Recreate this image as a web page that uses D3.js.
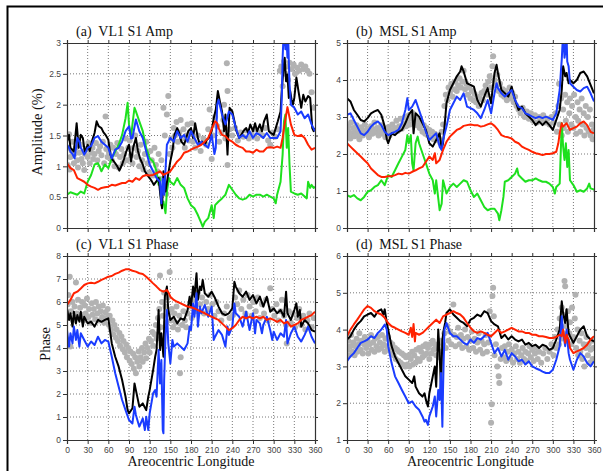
<!DOCTYPE html>
<html>
<head>
<meta charset="utf-8">
<script src="https://cdn.jsdelivr.net/npm/d3@7"></script>
<style>
  body { margin: 0; background: #fff; }
  svg { display: block; }
</style>
</head>
<body>
<div id="chart"></div>
<script>
// ---- data: [Ls, value] ----
const lsTicks = d3.range(0, 361, 30);

// (a) VL1 S1 Amp
const vl1AmpBlack = [[0,1.40],[3,1.51],[5,1.30],[10,1.24],[14,1.70],[17,1.30],[20,1.51],[23,1.46],[26,1.22],[30,1.35],[33,1.25],[36,1.40],[40,1.54],[43,1.73],[46,1.65],[50,1.62],[53,1.55],[56,1.51],[60,1.43],[63,1.19],[66,1.11],[70,1.05],[73,1.0],[76,0.93],[80,1.03],[83,1.13],[86,1.24],[90,1.35],[93,1.08],[96,1.30],[100,1.46],[103,1.25],[106,1.13],[110,1.03],[113,0.92],[116,0.87],[120,0.81],[123,0.76],[126,0.70],[130,0.76],[133,0.81],[136,0.48],[138,0.32],[140,0.92],[143,0.59],[146,0.81],[150,1.08],[153,1.24],[156,1.51],[160,1.62],[163,1.54],[166,1.40],[170,1.35],[173,1.46],[176,1.57],[180,1.62],[183,1.46],[186,1.70],[190,1.46],[193,1.35],[196,1.40],[200,1.35],[203,1.43],[206,1.46],[210,1.57],[213,1.78],[216,1.92],[219,2.22],[222,2.05],[225,1.89],[228,1.57],[230,1.84],[233,1.19],[236,1.95],[240,1.89],[243,1.73],[246,1.57],[250,1.46],[253,1.51],[256,1.57],[260,1.62],[263,1.54],[266,1.68],[270,1.57],[273,1.70],[276,1.57],[280,1.68],[283,1.57],[286,1.73],[290,1.84],[293,1.57],[296,1.54],[300,1.51],[303,1.62],[306,1.73],[310,1.89],[312,2.27],[314,2.54],[316,2.76],[318,2.38],[320,2.49],[322,2.11],[324,2.22],[326,2.08],[328,2.0],[330,2.11],[333,2.44],[336,2.22],[340,1.95],[343,2.16],[346,2.05],[350,2.14],[353,2.11],[356,1.62],[358,1.57],[360,1.62]];
const vl1AmpBlue = [[0,1.35],[3,1.30],[5,1.24],[8,1.20],[11,1.13],[15,1.46],[18,1.40],[20,1.30],[23,1.24],[25,1.19],[28,1.25],[30,1.30],[35,1.33],[40,1.46],[45,1.49],[50,1.40],[55,1.35],[60,1.30],[65,1.13],[70,1.27],[75,1.30],[80,1.40],[85,1.57],[90,1.65],[93,1.45],[95,1.46],[100,1.76],[105,1.57],[110,1.46],[115,1.24],[120,1.03],[125,0.92],[130,0.81],[135,0.75],[137,0.40],[139,0.80],[141,0.54],[145,1.35],[150,1.46],[155,1.40],[160,1.57],[165,1.46],[170,1.51],[175,1.40],[180,1.57],[185,1.46],[190,1.35],[195,1.40],[200,1.35],[205,1.30],[210,1.51],[214,1.20],[216,1.30],[218,2.0],[220,2.08],[225,1.84],[230,1.68],[235,1.89],[240,1.84],[245,1.62],[250,1.46],[255,1.51],[260,1.46],[265,1.57],[270,1.46],[275,1.54],[280,1.51],[285,1.46],[290,1.54],[295,1.46],[300,1.46],[305,1.46],[310,1.57],[312,2.2],[313,2.76],[315,3.3],[317,2.9],[318,3.2],[320,2.76],[321,3.1],[323,2.33],[325,2.0],[330,1.95],[335,1.84],[340,1.89],[345,1.78],[350,1.84],[355,1.68],[360,1.57]];
const vl1AmpRed = [[0,1.05],[5,0.97],[10,0.94],[15,0.81],[20,0.78],[25,0.75],[30,0.70],[35,0.67],[40,0.65],[45,0.62],[50,0.65],[55,0.66],[60,0.67],[65,0.70],[70,0.69],[75,0.71],[80,0.73],[85,0.73],[90,0.77],[95,0.75],[100,0.81],[105,0.78],[110,0.84],[115,0.86],[120,0.85],[125,0.86],[130,0.89],[135,0.92],[140,0.86],[145,0.89],[150,0.92],[155,1.0],[160,1.08],[165,1.13],[170,1.22],[175,1.24],[180,1.27],[185,1.30],[190,1.32],[195,1.35],[200,1.40],[205,1.46],[210,1.60],[215,1.73],[218,1.70],[220,1.62],[225,1.51],[230,1.49],[235,1.43],[240,1.40],[245,1.35],[250,1.32],[255,1.30],[260,1.24],[265,1.24],[270,1.22],[275,1.27],[280,1.24],[285,1.24],[290,1.30],[295,1.31],[300,1.30],[305,1.32],[310,1.30],[313,1.46],[315,1.62],[320,1.96],[325,1.68],[330,1.51],[335,1.49],[340,1.51],[345,1.46],[350,1.35],[355,1.27],[360,1.30]];
const vl1AmpGreen = [[0,0.54],[5,0.58],[10,0.56],[15,0.54],[20,0.59],[25,0.56],[30,0.75],[35,0.86],[40,1.03],[45,1.05],[50,0.92],[55,1.03],[60,0.97],[65,1.13],[70,1.24],[75,1.35],[80,1.51],[85,1.78],[88,2.03],[90,1.68],[93,1.46],[95,1.68],[98,1.95],[100,1.89],[105,1.73],[110,1.57],[115,1.30],[120,1.13],[125,1.08],[130,0.92],[133,0.70],[135,0.81],[137,0.37],[140,0.43],[143,0.24],[145,0.59],[148,0.81],[150,0.75],[155,0.70],[160,0.81],[165,0.70],[170,0.65],[175,0.48],[180,0.37],[185,0.32],[190,0.21],[195,0.08],[197,0.02],[200,0.10],[205,0.16],[210,0.37],[213,0.16],[215,0.37],[220,0.43],[225,0.48],[230,0.54],[235,0.70],[240,0.62],[245,0.54],[250,0.48],[255,0.46],[260,0.48],[265,0.54],[270,0.51],[275,0.54],[280,0.54],[285,0.51],[290,0.54],[295,0.51],[300,0.48],[303,0.40],[305,0.54],[310,0.75],[313,1.19],[315,1.73],[317,1.84],[319,1.30],[321,1.62],[323,1.03],[325,0.59],[330,0.56],[335,0.54],[340,0.56],[345,0.51],[348,0.48],[350,0.75],[353,0.65],[355,0.70],[358,0.65],[360,0.67]];
const vl1AmpObs = [[1,1.02],[2,1.3],[3,1.52],[4,0.95],[5,1.15],[7,1.25],[8,1.4],[10,1.05],[11,1.2],[13,1.3],[15,1.1],[16,0.98],[18,1.22],[20,1.35],[21,1.12],[23,1.05],[25,0.94],[26,1.2],[28,1.28],[30,1.15],[31,1.38],[33,1.05],[35,1.22],[37,1.3],[38,1.12],[40,1.2],[42,1.38],[44,1.1],[46,1.25],[48,1.32],[50,1.18],[52,1.4],[54,1.05],[56,1.81],[57,1.28],[59,1.15],[61,1.22],[63,1.35],[65,1.1],[67,1.3],[69,1.0],[71,1.2],[73,1.38],[75,0.98],[77,1.15],[79,1.28],[81,1.05],[83,1.2],[85,1.45],[87,1.1],[89,1.3],[91,1.42],[93,1.18],[95,1.05],[97,1.3],[99,1.5],[101,1.15],[103,1.25],[105,1.0],[107,1.35],[109,1.1],[111,0.95],[113,1.2],[115,1.4],[117,1.05],[119,0.9],[121,1.25],[123,1.1],[125,0.85],[127,1.3],[129,1.02],[131,0.92],[133,1.2],[135,0.8],[137,1.1],[139,0.62],[140,1.95],[142,1.5],[144,0.55],[145,1.84],[147,2.14],[149,1.2],[151,1.45],[153,1.3],[155,1.62],[157,1.5],[159,1.72],[161,1.4],[163,1.55],[165,1.75],[167,1.45],[169,1.6],[171,1.3],[173,1.5],[175,1.68],[177,1.42],[179,1.55],[181,1.7],[183,1.4],[186,1.3],[190,1.5],[194,1.25],[198,1.45],[202,1.35],[205,1.6],[207,1.92],[210,1.12],[212,1.5],[215,1.8],[218,1.65],[221,1.4],[224,1.55],[227,1.75],[228,2.0],[230,1.45],[232,2.67],[233,2.22],[233,1.02],[236,1.6],[240,1.5],[244,1.62],[248,1.42],[252,1.55],[256,1.48],[260,1.58],[264,1.45],[268,1.52],[272,1.6],[276,1.45],[280,1.55],[284,1.5],[288,1.62],[292,1.42],[295,1.35],[298,1.55],[302,1.48],[306,1.6],[309,2.55],[311,2.62],[313,2.3],[315,2.7],[317,2.5],[319,2.62],[321,2.4],[323,2.68],[326,2.58],[329,2.65],[331,2.5],[334,2.6],[337,2.55],[340,2.65],[343,2.58],[346,2.62],[349,2.55],[352,2.5],[355,2.2],[358,1.95]];

// (b) MSL S1 Amp
const mslAmpBlack = [[0,3.51],[5,3.42],[10,3.19],[15,3.06],[20,2.92],[25,2.88],[30,2.97],[35,3.10],[40,3.15],[45,3.19],[50,3.06],[55,2.74],[58,2.40],[60,2.29],[63,2.45],[65,2.56],[70,2.51],[75,2.60],[80,2.65],[85,2.83],[90,3.06],[95,3.19],[97,2.56],[100,3.10],[105,3.01],[110,2.83],[115,2.65],[120,2.29],[125,2.20],[130,2.38],[135,2.56],[138,2.15],[140,2.29],[145,3.37],[150,3.73],[155,3.91],[160,4.10],[165,4.23],[167,4.37],[170,4.23],[175,3.91],[180,3.87],[185,3.82],[190,3.46],[195,3.28],[200,3.55],[205,3.78],[210,3.37],[212,3.73],[215,4.19],[218,4.41],[220,4.19],[225,3.73],[230,3.64],[235,3.55],[240,3.82],[245,3.46],[250,3.19],[255,3.28],[260,3.10],[265,3.01],[270,2.92],[275,2.78],[280,2.88],[285,2.78],[290,2.88],[295,2.78],[300,2.65],[305,2.92],[310,3.19],[313,3.73],[315,4.37],[318,4.10],[320,4.19],[323,3.91],[325,4.0],[330,3.91],[335,4.0],[340,4.19],[345,4.23],[350,4.10],[355,3.87],[360,3.64]];
const mslAmpBlue = [[0,3.06],[5,3.10],[10,2.92],[15,2.74],[20,2.56],[25,2.51],[30,2.60],[35,2.74],[40,2.83],[45,2.88],[50,2.78],[55,2.60],[60,2.51],[65,2.56],[70,2.60],[75,2.65],[80,2.83],[85,3.19],[88,3.51],[90,3.19],[95,3.28],[100,3.46],[105,3.19],[110,2.92],[115,2.60],[120,2.38],[125,2.47],[130,2.56],[135,2.20],[138,2.11],[140,2.38],[145,2.74],[150,3.19],[155,3.37],[160,3.55],[165,3.46],[170,3.64],[175,3.28],[180,3.24],[185,3.19],[190,3.10],[195,2.97],[200,3.19],[205,3.46],[210,3.10],[215,3.64],[218,3.91],[220,3.78],[225,3.64],[230,3.55],[235,3.64],[240,3.73],[245,3.46],[250,3.28],[255,3.24],[260,3.10],[265,3.06],[270,3.01],[275,2.97],[280,3.01],[285,2.97],[290,3.01],[295,2.97],[300,2.92],[305,3.10],[310,3.73],[312,4.3],[313,4.55],[315,5.3],[317,4.6],[318,4.73],[320,5.2],[321,4.5],[323,4.37],[325,3.91],[330,3.82],[335,3.73],[340,3.69],[345,3.78],[350,3.82],[355,3.64],[360,3.42]];
const mslAmpRed = [[0,2.29],[5,2.20],[10,2.11],[15,2.02],[20,1.93],[25,1.84],[30,1.75],[35,1.61],[40,1.52],[45,1.43],[50,1.38],[55,1.38],[60,1.40],[65,1.40],[70,1.43],[75,1.47],[80,1.45],[85,1.49],[90,1.47],[95,1.52],[100,1.56],[105,1.61],[110,1.65],[115,1.79],[120,1.93],[125,1.84],[128,2.02],[130,1.75],[135,1.84],[140,2.11],[145,2.33],[150,2.47],[155,2.56],[160,2.65],[165,2.69],[170,2.76],[175,2.78],[180,2.80],[185,2.78],[190,2.78],[195,2.74],[200,2.76],[205,2.80],[210,2.83],[215,2.76],[220,2.65],[225,2.51],[230,2.47],[235,2.45],[240,2.42],[245,2.33],[250,2.29],[255,2.20],[260,2.15],[265,2.11],[270,2.06],[275,2.02],[280,2.0],[285,1.97],[290,2.0],[295,2.0],[300,2.02],[305,2.06],[308,2.29],[310,2.56],[313,2.83],[315,2.74],[320,2.83],[325,2.65],[330,2.70],[335,2.74],[340,2.83],[345,2.88],[350,2.78],[355,2.60],[360,2.56]];
const mslAmpGreen = [[0,0.89],[5,0.84],[10,0.89],[15,0.80],[20,0.75],[25,0.84],[30,0.98],[35,1.02],[40,1.11],[45,1.16],[50,1.29],[55,1.16],[60,1.43],[65,1.38],[70,1.56],[75,1.75],[80,1.93],[85,2.11],[88,2.51],[90,2.29],[93,2.51],[95,1.75],[97,1.56],[100,2.29],[103,2.47],[105,2.29],[110,2.02],[115,1.75],[120,1.47],[125,1.29],[128,0.93],[130,1.29],[135,0.48],[138,0.66],[140,1.29],[145,0.93],[150,1.11],[155,1.20],[160,1.11],[165,1.20],[170,1.29],[175,1.25],[180,1.02],[185,0.84],[190,0.93],[195,0.75],[200,0.57],[205,0.48],[210,0.52],[215,0.52],[220,0.39],[222,0.21],[225,0.48],[228,0.84],[230,1.25],[235,1.29],[240,1.38],[245,1.47],[248,1.61],[250,1.43],[255,1.34],[260,1.25],[265,1.29],[270,1.29],[275,1.34],[280,1.29],[285,1.25],[290,1.25],[295,1.20],[300,1.11],[303,0.93],[305,1.11],[310,1.20],[313,2.83],[315,2.20],[317,1.84],[319,2.29],[321,1.65],[323,2.11],[325,1.29],[330,1.16],[335,0.98],[340,1.02],[345,0.98],[350,1.07],[353,1.20],[355,1.07],[360,1.04]];
const mslAmpObs = [[1,2.5],[2,2.75],[3,2.6],[5,2.42],[6,2.85],[8,2.55],[9,2.7],[11,2.48],[12,2.62],[14,2.78],[15,2.5],[17,2.65],[18,2.4],[20,2.58],[21,2.72],[23,2.5],[25,2.62],[26,2.8],[28,2.55],[30,2.68],[32,2.45],[33,2.6],[35,2.75],[37,2.55],[39,2.66],[40,2.85],[42,2.58],[44,2.7],[46,2.5],[48,2.62],[50,2.78],[52,2.55],[54,2.68],[56,2.45],[58,2.6],[60,2.72],[62,2.5],[64,2.65],[66,2.8],[68,2.58],[70,2.7],[72,2.9],[74,2.62],[76,2.75],[78,2.95],[80,2.68],[82,2.82],[84,3.0],[86,2.75],[88,2.9],[90,3.05],[92,2.8],[94,2.95],[96,3.1],[98,2.85],[100,3.0],[102,2.78],[104,2.92],[106,2.7],[108,2.85],[110,2.6],[112,2.78],[114,2.55],[116,2.7],[118,2.5],[120,2.65],[122,2.45],[124,2.6],[126,2.4],[128,2.55],[130,2.38],[132,2.5],[134,2.42],[136,2.3],[138,2.6],[140,2.8],[142,3.3],[144,3.6],[146,3.45],[148,3.8],[150,3.65],[152,3.9],[154,3.55],[156,3.75],[158,3.95],[160,3.7],[162,3.85],[164,4.05],[166,3.8],[168,3.95],[170,4.25],[172,3.75],[174,3.9],[176,3.6],[178,3.8],[180,3.5],[182,3.7],[184,3.45],[186,3.62],[188,3.4],[190,3.55],[192,3.3],[194,3.5],[196,3.65],[198,3.45],[200,3.7],[202,3.85],[204,3.6],[206,3.95],[208,4.1],[210,3.8],[212,4.37],[213,4.64],[215,4.0],[217,3.85],[219,4.15],[221,3.7],[223,3.9],[225,3.6],[227,3.75],[229,3.55],[231,3.7],[233,3.45],[235,3.6],[237,3.8],[239,3.5],[241,3.65],[243,3.4],[245,3.55],[247,3.3],[250,3.2],[253,3.1],[256,3.25],[259,3.0],[262,3.15],[265,2.95],[268,3.1],[271,2.9],[274,3.05],[277,2.85],[280,3.0],[283,2.9],[286,3.05],[289,2.85],[292,2.95],[295,2.8],[298,3.0],[301,2.85],[304,3.1],[306,2.6],[308,3.3],[309,3.9],[310,2.8],[312,3.5],[313,2.5],[315,3.2],[316,2.7],[318,3.6],[319,2.9],[321,3.4],[322,2.6],[324,3.1],[325,3.5],[327,2.8],[328,3.3],[330,2.7],[331,3.6],[333,3.0],[334,2.55],[336,3.4],[337,2.9],[339,3.2],[340,2.6],[342,3.5],[343,2.8],[345,3.1],[346,2.5],[348,3.3],[349,2.7],[351,3.0],[352,2.6],[354,3.2],[355,2.5],[357,2.8],[358,2.4],[359,2.65]];

// (c) VL1 S1 Phase
const vl1PhBlack = [[0,5.72],[3,5.22],[5,5.51],[8,4.93],[10,5.58],[13,5.07],[15,5.43],[18,5.14],[20,5.58],[23,4.93],[25,5.36],[30,5.07],[35,5.14],[40,4.93],[45,5.22],[50,5.14],[55,5.22],[60,5.29],[63,4.64],[65,4.20],[70,3.62],[75,3.19],[80,2.61],[85,1.88],[88,1.30],[90,1.16],[95,1.38],[98,2.46],[100,2.17],[105,1.45],[110,1.59],[115,1.30],[118,1.88],[120,2.17],[125,3.04],[128,3.62],[130,3.91],[133,5.65],[135,3.91],[137,4.64],[140,3.62],[142,6.23],[145,6.67],[147,5.65],[150,5.22],[155,5.36],[160,5.07],[165,5.29],[170,5.22],[175,5.65],[178,6.23],[180,5.80],[183,6.67],[185,6.23],[188,7.25],[190,6.09],[193,6.67],[195,6.52],[197,6.96],[200,6.38],[205,6.23],[210,6.45],[215,6.16],[220,5.80],[225,5.51],[230,5.43],[235,5.51],[240,5.72],[243,6.88],[245,6.67],[250,6.38],[255,6.23],[260,6.45],[265,6.09],[270,6.30],[275,5.94],[280,6.23],[285,5.80],[290,6.23],[295,5.58],[300,5.72],[305,5.51],[310,5.65],[315,5.36],[318,6.45],[320,5.51],[325,5.22],[330,5.65],[333,5.94],[335,5.36],[338,5.65],[340,4.93],[345,5.22],[350,5.07],[355,4.78],[360,4.71]];
const vl1PhBlue = [[0,4.78],[3,4.06],[5,4.64],[8,4.20],[10,4.93],[13,4.35],[15,4.78],[18,4.06],[20,4.64],[25,4.35],[30,4.06],[35,4.28],[40,4.13],[45,4.49],[50,4.20],[55,4.35],[60,4.28],[65,3.62],[70,2.90],[75,2.32],[80,1.74],[85,1.30],[90,0.87],[95,0.72],[98,1.45],[100,1.09],[105,0.58],[110,0.94],[113,0.43],[115,1.01],[118,0.43],[120,1.16],[125,2.03],[128,2.17],[130,1.88],[133,3.91],[135,2.46],[137,3.48],[139,0.43],[140,0.29],[141,2.6],[143,4.49],[145,5.65],[147,4.2],[150,3.33],[153,4.35],[155,4.06],[160,4.20],[165,4.06],[170,3.91],[175,4.20],[178,4.93],[180,4.78],[183,5.94],[185,5.36],[188,6.38],[190,4.93],[193,5.80],[195,5.51],[200,5.87],[205,5.36],[210,5.80],[213,4.35],[215,4.49],[220,4.78],[225,4.57],[230,4.06],[233,4.93],[235,4.57],[240,4.93],[243,5.94],[245,5.51],[250,5.36],[255,4.93],[260,5.58],[265,4.78],[270,5.51],[273,4.64],[275,5.22],[280,5.07],[283,4.64],[285,5.0],[290,5.36],[295,4.78],[298,4.35],[300,4.71],[305,4.35],[310,4.64],[315,4.49],[318,5.22],[320,4.20],[325,4.64],[330,4.93],[335,4.49],[340,4.28],[345,4.57],[350,4.93],[355,4.49],[360,4.20]];
const vl1PhRed = [[0,5.87],[5,6.09],[10,6.38],[15,6.45],[20,6.59],[25,6.74],[30,6.81],[35,6.84],[40,6.81],[45,6.88],[50,6.96],[55,7.03],[60,7.10],[65,7.13],[70,7.22],[75,7.28],[80,7.36],[85,7.42],[90,7.42],[95,7.36],[100,7.32],[105,7.25],[110,7.22],[115,7.10],[120,6.96],[125,6.81],[130,6.67],[135,6.52],[140,6.45],[145,6.52],[148,6.38],[150,6.23],[155,6.09],[160,6.01],[165,5.94],[170,5.87],[175,5.80],[180,5.77],[185,5.72],[190,5.65],[195,5.58],[200,5.51],[205,5.43],[210,5.36],[215,5.29],[220,5.22],[225,5.07],[230,4.93],[235,4.78],[240,4.86],[245,5.0],[250,5.22],[255,5.36],[260,5.29],[265,5.36],[270,5.29],[275,5.36],[280,5.29],[285,5.36],[290,5.22],[295,5.29],[300,5.22],[305,5.14],[310,5.22],[315,5.07],[320,5.14],[325,4.93],[330,5.0],[335,5.07],[340,5.22],[345,5.29],[350,5.36],[355,5.43],[360,5.58]];
const vl1PhObs = [[1,5.9],[2,6.3],[4,7.1],[5,4.06],[6,5.6],[8,6.0],[9,5.2],[11,5.8],[13,6.85],[14,5.5],[16,6.1],[17,5.3],[19,5.75],[21,5.45],[22,6.0],[24,5.2],[26,5.85],[27,5.5],[29,6.15],[31,5.35],[32,5.7],[34,5.1],[36,5.95],[37,5.45],[39,5.7],[41,5.25],[42,6.0],[44,5.5],[46,5.8],[47,5.2],[49,5.6],[51,5.35],[52,5.85],[54,5.1],[56,5.55],[57,5.3],[59,5.7],[61,5.0],[62,5.4],[64,4.8],[66,5.2],[67,4.6],[69,5.0],[71,4.45],[72,4.8],[74,4.3],[76,4.65],[77,4.1],[79,4.5],[81,3.95],[82,4.3],[84,3.8],[86,4.15],[87,3.6],[89,4.0],[91,3.45],[92,3.85],[94,3.3],[96,3.75],[97,3.1],[99,3.6],[100,2.9],[102,3.4],[104,3.85],[105,3.2],[107,3.6],[109,4.0],[110,3.4],[112,3.8],[114,4.2],[115,3.55],[117,4.0],[119,4.4],[120,3.8],[122,4.3],[124,4.7],[125,4.1],[127,4.6],[129,5.0],[130,4.4],[132,5.3],[134,5.7],[135,7.15],[136,4.9],[138,6.0],[139,5.4],[141,6.4],[143,5.8],[144,5.1],[146,6.2],[148,5.5],[149,7.3],[151,5.2],[152,5.7],[154,4.9],[156,5.5],[158,5.1],[159,5.8],[161,4.8],[163,5.4],[164,2.9],[165,3.6],[167,5.0],[169,5.6],[171,5.2],[173,4.9],[175,5.5],[178,5.8],[181,5.3],[184,6.1],[187,5.6],[190,6.4],[193,5.9],[196,6.2],[199,5.5],[202,6.0],[205,5.7],[208,6.3],[211,5.9],[214,5.4],[217,6.0],[220,5.6],[224,5.2],[228,5.5],[232,5.8],[236,5.3],[241,5.43],[244,6.2],[247,5.9],[250,6.5],[253,5.7],[256,6.1],[259,5.5],[262,6.3],[265,5.8],[268,5.4],[271,6.0],[274,5.6],[277,6.2],[280,5.3],[283,5.9],[286,5.5],[289,6.1],[292,5.2],[295,6.6],[298,5.7],[301,5.4],[304,5.9],[307,5.2],[310,5.6],[312,6.1],[315,5.4],[318,5.0],[319,4.2],[322,5.6],[325,5.1],[328,5.5],[331,4.9],[334,5.3],[337,5.7],[340,5.0],[343,5.4],[346,4.8],[349,5.2],[352,5.5],[355,4.9],[358,5.3]];

// (d) MSL S1 Phase
const mslPhBlack = [[0,3.73],[5,3.82],[10,4.0],[15,4.14],[20,4.23],[25,4.36],[30,4.41],[35,4.45],[40,4.35],[45,4.5],[50,4.55],[53,4.41],[55,4.55],[58,4.18],[60,4.0],[65,3.55],[70,3.27],[75,3.09],[80,2.91],[85,2.73],[90,2.64],[95,2.55],[98,2.73],[100,2.45],[105,2.27],[110,2.18],[113,2.27],[115,2.09],[118,1.91],[120,2.27],[125,2.73],[128,3.0],[130,2.45],[133,4.0],[135,3.36],[137,2.36],[139,3.73],[141,4.0],[143,4.18],[145,4.45],[150,4.55],[155,4.41],[160,4.32],[165,4.23],[170,4.18],[175,4.09],[180,4.27],[185,4.32],[190,4.41],[195,4.36],[200,4.5],[205,4.45],[210,4.23],[215,4.14],[220,4.09],[225,3.77],[230,3.86],[235,3.73],[240,3.82],[245,3.73],[250,3.68],[255,3.73],[260,3.59],[265,3.64],[270,3.55],[275,3.59],[280,3.5],[285,3.59],[290,3.55],[295,3.45],[300,3.5],[305,3.73],[310,4.0],[313,4.77],[315,4.45],[318,4.18],[320,4.55],[323,3.91],[325,3.82],[330,3.64],[335,3.82],[340,4.0],[345,4.09],[350,3.82],[355,3.73],[360,3.68]];
const mslPhBlue = [[0,3.14],[5,3.27],[10,3.36],[15,3.5],[20,3.64],[25,3.68],[30,3.73],[35,3.82],[40,3.77],[45,3.91],[50,4.0],[55,4.14],[58,4.0],[60,3.55],[65,3.09],[70,2.73],[75,2.55],[80,2.36],[85,2.18],[90,2.0],[95,2.05],[100,1.91],[105,1.82],[110,1.64],[113,1.5],[115,1.55],[118,1.41],[120,1.64],[125,1.91],[128,2.18],[130,1.64],[133,2.36],[135,2.09],[137,2.82],[139,1.36],[140,2.4],[142,4.0],[145,4.18],[150,3.91],[155,3.82],[160,3.82],[165,3.73],[170,3.64],[175,3.59],[180,3.73],[185,3.64],[190,3.77],[195,3.73],[200,3.82],[205,3.91],[210,3.64],[215,3.36],[220,3.5],[225,3.27],[230,3.45],[235,3.18],[240,3.36],[245,3.27],[250,3.14],[255,3.18],[260,3.05],[265,3.14],[270,3.0],[275,2.95],[280,2.91],[285,2.86],[290,2.82],[295,2.82],[300,2.91],[305,3.18],[310,3.55],[313,4.36],[315,3.91],[318,3.55],[320,4.0],[323,3.36],[325,3.18],[330,2.91],[335,3.18],[340,3.36],[345,3.27],[350,3.09],[355,3.0],[360,3.14]];
const mslPhRed = [[0,3.82],[5,4.0],[10,4.14],[15,4.27],[20,4.41],[25,4.55],[30,4.64],[35,4.59],[40,4.5],[45,4.45],[50,4.41],[55,4.32],[60,4.18],[65,4.09],[70,4.05],[75,4.0],[80,3.95],[85,3.91],[90,3.86],[93,4.05],[95,3.8],[97,4.15],[99,3.68],[100,3.91],[105,3.86],[110,3.91],[115,4.0],[120,4.09],[125,4.18],[130,4.27],[135,4.18],[140,4.36],[145,4.41],[150,4.45],[155,4.5],[160,4.45],[165,4.41],[170,4.32],[175,4.18],[180,4.05],[185,3.95],[190,3.91],[195,3.95],[200,3.91],[205,3.86],[210,3.82],[215,3.91],[220,4.0],[225,3.91],[230,3.95],[235,4.0],[240,4.05],[245,4.0],[250,3.95],[255,3.95],[260,3.91],[265,3.91],[270,3.86],[275,3.86],[280,3.82],[285,3.82],[290,3.8],[295,3.77],[300,3.77],[305,3.8],[310,3.86],[313,3.82],[315,4.0],[318,3.64],[320,3.86],[323,3.73],[325,3.5],[330,3.36],[335,3.41],[340,3.45],[345,3.5],[350,3.59],[355,3.73],[360,3.82]];
const mslPhObs = [[1,3.45],[2,3.7],[3,3.3],[5,3.55],[6,3.85],[8,3.4],[9,3.65],[11,3.3],[12,3.55],[14,3.75],[15,3.4],[17,3.6],[18,3.9],[20,3.45],[21,3.7],[23,3.35],[25,3.6],[26,3.8],[28,3.5],[30,3.7],[31,3.35],[33,3.6],[35,3.85],[36,3.45],[38,3.65],[40,3.4],[41,3.75],[43,3.55],[45,3.8],[46,3.45],[48,3.65],[50,3.5],[51,3.85],[53,3.6],[55,3.4],[56,3.75],[58,3.55],[60,3.8],[61,3.45],[63,3.65],[65,3.35],[66,3.6],[68,3.3],[70,3.5],[71,3.2],[73,3.45],[75,3.15],[76,3.4],[78,3.1],[80,3.35],[81,3.05],[83,3.3],[85,3.0],[86,3.25],[88,3.05],[90,3.3],[91,3.0],[93,3.2],[95,3.4],[96,3.05],[98,3.3],[100,3.1],[101,3.45],[103,3.2],[105,3.5],[106,3.15],[108,3.4],[110,3.25],[111,3.55],[113,3.3],[115,3.6],[116,3.35],[118,3.5],[120,3.2],[121,3.6],[123,3.35],[125,3.7],[126,3.45],[128,3.6],[130,3.3],[132,3.5],[134,3.25],[136,3.7],[138,3.4],[140,3.6],[142,3.9],[144,3.5],[146,4.1],[148,3.7],[150,3.95],[152,3.6],[155,4.68],[156,3.85],[158,3.55],[160,3.8],[162,4.05],[164,3.6],[166,3.85],[168,3.5],[170,3.75],[172,4.0],[174,3.55],[176,3.8],[178,3.45],[180,3.7],[182,3.95],[184,3.5],[186,3.75],[188,3.4],[190,3.65],[192,3.9],[194,3.45],[196,3.7],[198,3.35],[200,3.6],[202,3.85],[204,3.4],[206,3.65],[208,4.5],[210,1.47],[211,1.97],[212,4.91],[213,5.14],[214,4.36],[215,3.3],[217,3.6],[219,3.0],[221,2.73],[222,2.55],[224,3.2],[226,3.5],[228,3.25],[230,3.55],[232,3.15],[234,3.4],[236,3.6],[238,3.2],[240,3.45],[242,3.1],[244,3.35],[246,3.55],[248,3.2],[250,3.4],[252,3.1],[254,3.3],[256,3.5],[258,3.2],[260,3.4],[262,3.15],[264,3.35],[266,3.55],[268,3.25],[270,3.45],[272,3.15],[274,3.35],[276,3.5],[278,3.2],[280,3.4],[283,3.1],[286,3.35],[289,3.5],[292,3.2],[295,3.4],[298,3.6],[301,3.3],[303,3.8],[305,3.5],[307,4.0],[309,3.6],[310,4.3],[312,3.75],[313,4.6],[315,3.9],[316,4.4],[317,5.32],[318,5.18],[319,4.1],[321,3.7],[322,4.5],[324,3.9],[325,4.2],[327,3.6],[328,4.6],[330,3.8],[332,4.3],[333,4.95],[334,3.5],[336,4.0],[337,3.3],[339,3.7],[340,3.4],[342,3.9],[343,3.2],[345,3.6],[346,3.0],[348,3.5],[349,3.8],[351,3.3],[352,3.6],[354,3.1],[355,3.45],[357,3.7],[358,3.2],[359,3.5]];

// ---- layout ----
const W = 603, H = 471;
const colors = { obs: "#b2b2b2", black: "#000000", blue: "#1a3cff", red: "#ff2200", green: "#1ee01e" };

const panels = [
  { id: "a", title: "(a)  VL1 S1 Amp", left: 67, right: 315, top: 43, bottom: 228,
    domain: [0, 3], step: 0.5, xlabels: false,
    obs: vl1AmpObs, lines: [["green", vl1AmpGreen], ["black", vl1AmpBlack], ["blue", vl1AmpBlue], ["red", vl1AmpRed]] },
  { id: "b", title: "(b)  MSL S1 Amp", left: 347, right: 594, top: 43, bottom: 228,
    domain: [0, 5], step: 1, xlabels: false,
    obs: mslAmpObs, lines: [["green", mslAmpGreen], ["black", mslAmpBlack], ["blue", mslAmpBlue], ["red", mslAmpRed]] },
  { id: "c", title: "(c)  VL1 S1 Phase", left: 67, right: 315, top: 256, bottom: 440,
    domain: [0, 8], step: 1, xlabels: true,
    obs: vl1PhObs, lines: [["black", vl1PhBlack], ["blue", vl1PhBlue], ["red", vl1PhRed]] },
  { id: "d", title: "(d)  MSL S1 Phase", left: 347, right: 594, top: 256, bottom: 440,
    domain: [1, 6], step: 1, xlabels: true,
    obs: mslPhObs, lines: [["black", mslPhBlack], ["blue", mslPhBlue], ["red", mslPhRed]] }
];

const svg = d3.select("#chart").append("svg")
  .attr("width", W)
  .attr("height", H);

svg.append("rect").attr("width", W).attr("height", H).attr("fill", "#fff");

// outer frame (only top and left edges fall inside the picture)
svg.append("path")
  .attr("d", "M7.5," + H + "V6.5H" + W)
  .attr("fill", "none")
  .attr("stroke", "#000")
  .attr("stroke-width", 2);

function drawPanel(p) {
  const x = d3.scaleLinear().domain([0, 360]).range([p.left, p.right]);
  const y = d3.scaleLinear().domain(p.domain).range([p.bottom, p.top]);
  const yTicks = d3.range(p.domain[0], p.domain[1] + 1e-9, p.step);

  const g = svg.append("g").attr("class", "panel-" + p.id);

  // dotted grid
  const grid = g.append("g")
    .attr("stroke", "#555")
    .attr("stroke-width", 0.8)
    .attr("stroke-dasharray", "1,2");
  grid.selectAll(".gx").data(lsTicks.slice(1, -1)).join("line")
    .attr("x1", d => x(d)).attr("x2", d => x(d))
    .attr("y1", p.top).attr("y2", p.bottom);
  grid.selectAll(".gy").data(yTicks.slice(1, -1)).join("line")
    .attr("x1", p.left).attr("x2", p.right)
    .attr("y1", d => y(d)).attr("y2", d => y(d));

  svg.append("clipPath").attr("id", "clip-" + p.id)
    .append("rect")
    .attr("x", p.left).attr("y", p.top)
    .attr("width", p.right - p.left).attr("height", p.bottom - p.top);

  const plot = g.append("g").attr("clip-path", "url(#clip-" + p.id + ")");

  plot.append("g").selectAll("circle").data(p.obs).join("circle")
    .attr("cx", d => x(d[0]))
    .attr("cy", d => y(d[1]))
    .attr("r", 3)
    .attr("fill", colors.obs);

  const line = d3.line().x(d => x(d[0])).y(d => y(d[1]));
  p.lines.forEach(([c, data]) => {
    plot.append("path")
      .attr("d", line(data))
      .attr("fill", "none")
      .attr("stroke", colors[c])
      .attr("stroke-width", 2)
      .attr("stroke-linejoin", "round");
  });

  // axes
  const fmt = d3.format("~g");
  const styleAxis = sel => {
    sel.select(".domain").attr("stroke", "#333").attr("stroke-width", 1.2);
    sel.selectAll(".tick line").attr("stroke", "#333");
    sel.selectAll("text")
      .attr("fill", "#444")
      .style("font-family", "'Liberation Sans', Arial, sans-serif")
      .style("font-size", "8.5px");
  };

  g.append("g")
    .attr("transform", "translate(" + p.left + ",0)")
    .call(d3.axisLeft(y).tickValues(yTicks).tickFormat(fmt).tickSize(4).tickPadding(2))
    .call(styleAxis);

  g.append("g")
    .attr("transform", "translate(0," + p.bottom + ")")
    .call(d3.axisBottom(x).tickValues(lsTicks).tickSize(4).tickPadding(3)
      .tickFormat(p.xlabels ? fmt : ""))
    .call(styleAxis);

  g.append("g")
    .attr("transform", "translate(0," + p.top + ")")
    .call(d3.axisTop(x).tickValues(lsTicks).tickSize(3).tickFormat(""))
    .call(styleAxis);

  g.append("g")
    .attr("transform", "translate(" + p.right + ",0)")
    .call(d3.axisRight(y).tickValues(yTicks).tickSize(3).tickFormat(""))
    .call(styleAxis);

  g.append("text")
    .attr("x", p.left + 9)
    .attr("y", p.top - 7.5)
    .style("font-family", "'Liberation Serif', 'Times New Roman', serif")
    .style("font-size", "14px")
    .style("white-space", "pre")
    .attr("fill", "#111")
    .text(p.title);

  if (p.xlabels) {
    g.append("text")
      .attr("x", (p.left + p.right) / 2)
      .attr("y", 466)
      .attr("text-anchor", "middle")
      .style("font-family", "'Liberation Serif', 'Times New Roman', serif")
      .style("font-size", "14px")
      .attr("fill", "#111")
      .text("Areocentric Longitude");
  }
}

panels.forEach(drawPanel);

// y-axis titles
const yTitles = [
  { text: "Amplitude (%)", x: 42, y: 132 },
  { text: "Phase", x: 50, y: 344 }
];
svg.selectAll(".ytitle").data(yTitles).join("text")
  .attr("class", "ytitle")
  .attr("transform", d => "translate(" + d.x + "," + d.y + ") rotate(-90)")
  .attr("text-anchor", "middle")
  .style("font-family", "'Liberation Serif', 'Times New Roman', serif")
  .style("font-size", "14.5px")
  .attr("fill", "#111")
  .text(d => d.text);
</script>
</body>
</html>
